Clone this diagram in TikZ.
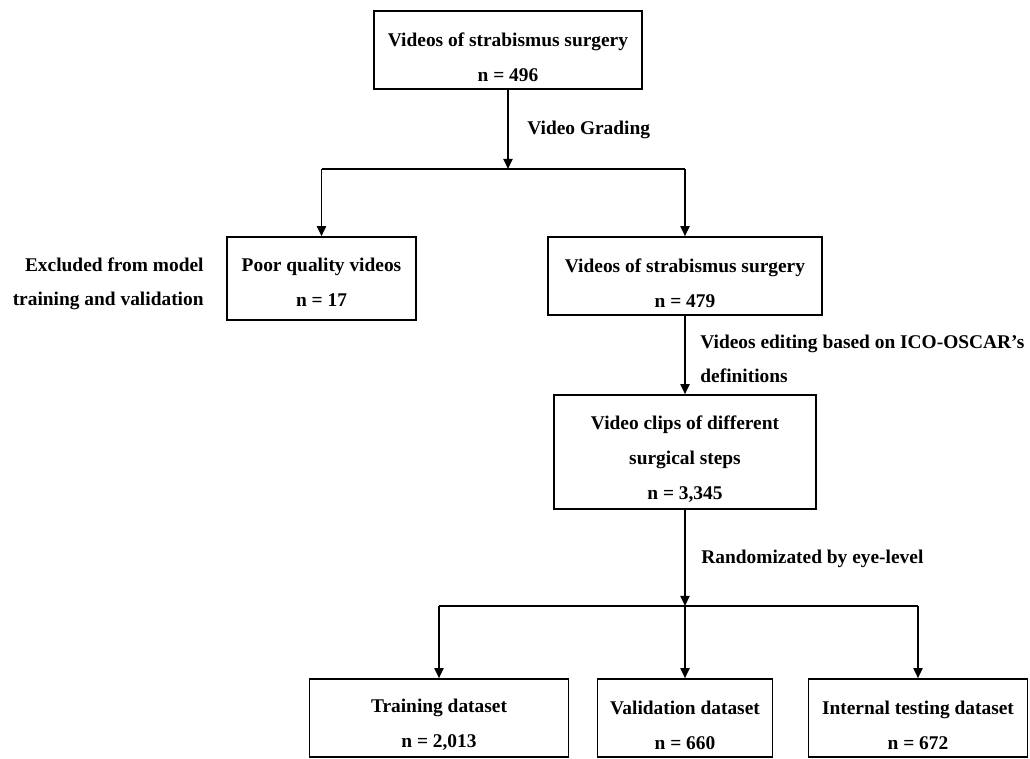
\documentclass[tikz,border=0pt]{standalone}
\usepackage{fontspec}
\setmainfont{Liberation Serif}
\usetikzlibrary{arrows.meta,positioning}
\newcommand{\boxpad}{\rule{0pt}{14pt}}

\begin{document}
\begin{tikzpicture}[x=0.5pt,y=-0.5pt,>={Triangle[length=5pt,width=4.5pt]},
  fbox/.style={draw=black,line width=0.8pt,align=center,font=\fontsize{9.7}{17.5}\selectfont\bfseries,inner sep=0pt},
  lbl/.style={font=\fontsize{9.7}{17}\selectfont\bfseries,inner sep=0pt},
  conn/.style={line width=0.9pt}]
\useasboundingbox (0,0) rectangle (1030,759);
% boxes
\node[fbox,minimum width=134pt,minimum height=39pt] (vid_all) at (508,50) {\boxpad Videos of strabismus surgery\\n = 496};
\node[fbox,minimum width=94.5pt,minimum height=41.5pt] (vid_poor) at (321.5,278.5) {\rule{0pt}{11pt}Poor quality videos\\n = 17};
\node[fbox,minimum width=137pt,minimum height=39pt] (vid_good) at (685,276) {\boxpad Videos of strabismus surgery\\n = 479};
\node[fbox,minimum width=131pt,minimum height=57pt] (vid_clips) at (685,452) {\boxpad Video clips of different\\surgical steps\\n = 3,345};
\node[fbox,minimum width=129.5pt,minimum height=39pt] (set_train) at (439,718) {\boxpad Training dataset\\n = 2,013};
\node[fbox,minimum width=87.5pt,minimum height=39pt] (set_valid) at (685,718) {\boxpad Validation dataset\\n = 660};
\node[fbox,minimum width=109.5pt,minimum height=39pt] (set_test) at (918,718) {\boxpad Internal testing dataset\\n = 672};
% labels
\node[lbl,anchor=west] (lbl_grade) at (527,130) {Video Grading};
\node[lbl,anchor=east,align=right] (lbl_excl) at (204,284) {Excluded from model\\training and validation};
\node[lbl,anchor=west,align=left] (lbl_edit) at (700,359) {Videos editing based on ICO-OSCAR’s\\definitions};
\node[lbl,anchor=west] (lbl_rand) at (701,559) {Randomizated by eye-level};
% connectors
\coordinate (split_a) at (508,169);
\coordinate (split_b) at (685,606);
\draw[conn,->] (vid_all) -- (split_a);
\draw[conn] (vid_poor.north |- split_a) -- (vid_good.north |- split_a);
\draw[conn,->] (vid_poor.north |- split_a) -- (vid_poor);
\draw[conn,->] (vid_good.north |- split_a) -- (vid_good);
\draw[conn,->] (vid_good) -- (vid_clips);
\draw[conn,->] (vid_clips) -- (split_b);
\draw[conn] (set_train.north |- split_b) -- (set_test.north |- split_b);
\draw[conn,->] (set_train.north |- split_b) -- (set_train);
\draw[conn,->] (split_b) -- (set_valid);
\draw[conn,->] (set_test.north |- split_b) -- (set_test);
\end{tikzpicture}
\end{document}
